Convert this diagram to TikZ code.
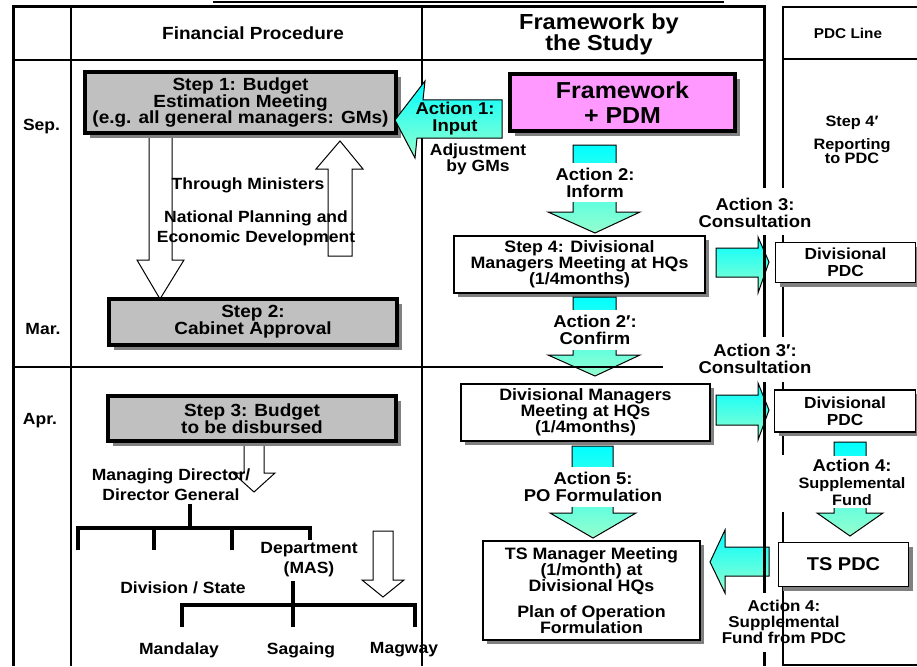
\documentclass[tikz,border=0pt]{standalone}
\usepackage{fontspec}
\setmainfont{Liberation Sans}[FakeStretch=1.08]
\usetikzlibrary{shadows}
\definecolor{boxgray}{RGB}{192,192,192}
\definecolor{shgray}{RGB}{128,128,128}
\definecolor{pinkbox}{RGB}{255,153,255}
\definecolor{acyan}{RGB}{0,255,255}
\definecolor{amint}{RGB}{150,255,205}
\newcommand{\fsz}[2]{\fontsize{#1}{#2}\selectfont\lineskiplimit=-50pt\lineskip=0pt}
\newcommand{\prm}{\char"2032}
\begin{document}
\begin{tikzpicture}[x=1pt,y=-1pt,
  lbl/.style={font=\bfseries\fsz{16.2}{17}, align=center, inner sep=0},
  albl/.style={font=\bfseries\fsz{17.1}{17}, align=center, inner sep=0},
  wlbl/.style={albl, fill=white, inner xsep=3, inner ysep=5},
  shd/.style={drop shadow={shadow xshift=5pt, shadow yshift=-5pt, fill=shgray, opacity=1}},
  shdw/.style={drop shadow={shadow xshift=4pt, shadow yshift=-4pt, fill=shgray, opacity=1}},
  gbox/.style={draw, line width=3.5, fill=boxgray, shd, font=\bfseries\fsz{17.6}{16.8}, align=center, inner sep=0},
  wbox/.style={draw, line width=1.5, fill=white, shdw, font=\bfseries\fsz{16.5}{16.2}, align=center, inner sep=0},
  hollow/.style={draw, line width=1, fill=white},
  blockarr/.style={draw, line width=1, top color=acyan, bottom color=amint},
  thinrule/.style={line width=1.2},
  thickrule/.style={line width=3},
  tree/.style={line width=4},
]
\useasboundingbox[fill=white] (0,0) rectangle (917,666);

% remnant underline at top
\draw[line width=2] (213,2.5) -- (724,2.5);

% table rules
\draw[thinrule] (71,7) -- (71,666);
\draw[thinrule] (422,7) -- (422,666);
\draw[thinrule] (13,60) -- (764,60);
% PDC line column
\draw[thinrule] (917,7) -- (783,7) -- (783,188);
\draw[thinrule] (783,59) -- (917,59);
\draw[thinrule] (783,235) -- (783,337);
\draw[thinrule] (783,382) -- (783,455);
\draw[thinrule] (783,512) -- (783,665) -- (917,665);

% headers
\node[font=\bfseries\fsz{17.6}{19}] (hfin) at (253,33.5) {Financial Procedure};
\node[font=\bfseries\fsz{21.8}{21}, align=center] (hfw) at (599,34) {Framework by\\the Study};
\node[font=\bfseries\fsz{14.2}{15}] (hpdc) at (848,33) {PDC Line};

% months
\node[lbl] (msep) at (41.5,127) {Sep.};
\node[lbl] (mmar) at (43,329) {Mar.};
\node[lbl] (mapr) at (40,421) {Apr.};

% hollow arrows between step 1 and step 2
\draw[hollow] (149,130) -- (172,130) -- (172,260) -- (184,260) -- (160,299) -- (137,260) -- (149,260) -- cycle;
\draw[hollow] (328,256) -- (352,256) -- (352,169) -- (363,169) -- (340,141) -- (316,169) -- (328,169) -- cycle;

% financial boxes
\node[gbox, minimum width=311, minimum height=61] (s1) at (240.5,102.5) {Step 1: Budget\\Estimation Meeting\\(e.g. all general managers: GMs)};
\node[gbox, minimum width=288, minimum height=46] (s2) at (253,322) {Step 2:\\Cabinet Approval};

\node[lbl] (thr) at (248,185) {Through Ministers};
\node[font=\bfseries\fsz{16.2}{20}, align=center] (npe) at (256,228) {National Planning and\\Economic Development};

% step 3 and below
\draw[hollow] (244,440) -- (264,440) -- (264,473) -- (275,473) -- (254,492) -- (233,473) -- (244,473) -- cycle;
\node[gbox, minimum width=288, minimum height=45] (s3) at (252,418.5) {Step 3: Budget\\to be disbursed};

\node[font=\bfseries\fsz{16.2}{20}, align=center] (md) at (171,485) {Managing Director/\\Director General};
\coordinate (t1top) at (190,504);
\coordinate (t1mid) at (190,528);
\coordinate (t1a) at (78,528);
\coordinate (t1e) at (310,528);
\coordinate (t1b) at (154,528);
\coordinate (t1c) at (232,528);
\draw[tree] (t1top) -- (t1mid);
\draw[tree] (t1a |- 0,550) -- (t1a) -- (t1e) -- (t1e |- 0,540);
\draw[tree] (t1b) -- (t1b |- 0,550);
\draw[tree] (t1c) -- (t1c |- 0,550);

\node[font=\bfseries\fsz{16.2}{20}, align=center] (dep) at (309,560) {Department\\(MAS)};
\draw[hollow] (373,531) -- (393,531) -- (393,580) -- (404,580) -- (383,597) -- (362,580) -- (373,580) -- cycle;
\node[lbl] (divst) at (183,588) {Division / State};

\coordinate (t2top) at (293,581);
\coordinate (t2mid) at (293,605);
\coordinate (t2a) at (182,605);
\coordinate (t2c) at (415,605);
\draw[tree] (t2top) -- (t2mid |- 0,627);
\draw[tree] (t2a |- 0,627) -- (t2a) -- (t2c) -- (t2c |- 0,627);

\node[lbl] (mdl) at (179,650) {Mandalay};
\node[lbl] (sgg) at (301,650) {Sagaing};
\node[lbl] (mgw) at (404,650) {Magway};

% framework column
\node[draw, line width=3.5, fill=pinkbox, shd, font=\bfseries\fsz{23.1}{25.5}, align=center, inner sep=0, minimum width=225, minimum height=57] (fw) at (622.5,102.5) {Framework\\+ PDM};

\draw[blockarr] (395,120) -- (425,81) -- (423,100) -- (502,100) -- (502,138) -- (417,138) -- (415,158) -- cycle;
\node[albl] (a1) at (455,119) {Action 1:\\Input};
\node[font=\bfseries\fsz{16.2}{16}, align=center] (adj) at (478,159) {Adjustment\\by GMs};

\draw[blockarr] (573,145) -- (616,145) -- (616,212) -- (640,212) -- (595,233) -- (548,212) -- (573,212) -- cycle;
\node[wlbl] (a2) at (595,182.5) {Action 2:\\Inform};

\node[wbox, minimum width=251, minimum height=57] (s4) at (579.5,264.5) {Step 4: Divisional\\Managers Meeting at HQs\\(1/4months)};

\draw[blockarr] (573,297) -- (616,297) -- (616,355) -- (640,355) -- (595,376) -- (548,355) -- (573,355) -- cycle;
\node[wlbl] (a2b) at (595,330) {Action 2\prm:\\Confirm};
\draw[thinrule] (13,367) -- (663,367);

\node[wbox, minimum width=249, minimum height=57] (dm2) at (585.5,412.5) {Divisional Managers\\Meeting at HQs\\(1/4months)};

\draw[blockarr] (572,446) -- (613,446) -- (613,513) -- (636,513) -- (593,538) -- (550,513) -- (572,513) -- cycle;
\node[wlbl] (a5) at (593,487) {Action 5:\\PO Formulation};

\node[wbox, minimum width=217, minimum height=99] (ts) at (591.5,590.5) {TS Manager Meeting\\(1/month) at\\Divisional HQs\\[10pt]Plan of Operation\\Formulation};

% PDC column
\node[font=\bfseries\fsz{15.1}{14.5}, align=center] (s4p) at (852,140) {Step 4\prm\\[8pt]Reporting\\to PDC};

\draw[blockarr] (716,248) -- (758,248) -- (758,237) -- (769,262) -- (758,293) -- (758,277) -- (716,277) -- cycle;
\node[albl] (a3) at (755,212.5) {Action 3:\\Consultation};
\node[wbox, font=\bfseries\fsz{16}{17}, minimum width=140, minimum height=40] (pdc1) at (845.5,262.5) {Divisional\\PDC};

\draw[blockarr] (716,395) -- (758,395) -- (758,383) -- (769,410) -- (758,440) -- (758,425) -- (716,425) -- cycle;
\node[albl] (a3b) at (755,359) {Action 3\prm:\\Consultation};
\node[wbox, font=\bfseries\fsz{16}{17}, minimum width=141, minimum height=42] (pdc2) at (845,411) {Divisional\\PDC};

\draw[blockarr] (834,442) -- (866,442) -- (866,513) -- (883,513) -- (850,536) -- (817,513) -- (834,513) -- cycle;
\node[albl, fill=white, inner xsep=2, inner ysep=3] (a4v) at (852,482) {Action 4:\\\fsz{15.1}{14.5}Supplemental\\\fsz{15.1}{13.5}Fund};

\node[wbox, font=\bfseries\fsz{18.5}{20}, minimum width=130, minimum height=44] (tspdc) at (843.5,564.5) {TS PDC};

\draw[blockarr] (769,547) -- (725,547) -- (725,530) -- (710,562) -- (725,593) -- (725,576) -- (769,576) -- cycle;

% thick frame lines on top
\draw[thickrule] (13,666) -- (13,7) -- (764,7) -- (764,188);
\draw[thickrule] (764,235) -- (764,337);
\draw[thickrule] (764,382) -- (764,593);
\draw[thickrule] (764,652) -- (764,666);

\node[font=\bfseries\fsz{15.7}{16}, align=center] (a4b) at (784,621.5) {Action 4:\\Supplemental\\Fund from PDC};
\end{tikzpicture}
\end{document}
